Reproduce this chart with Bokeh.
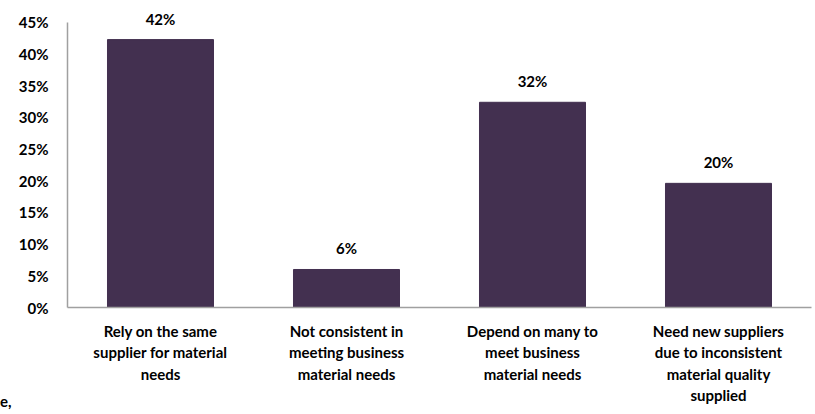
from bokeh.plotting import figure
from bokeh.models import ColumnDataSource, FactorRange, Range1d, NumeralTickFormatter, FixedTicker, Div
from bokeh.layouts import column
from bokeh.embed import file_html
from bokeh.resources import INLINE
from bokeh.core.properties import value

categories = [
    "Rely on the same\nsupplier for material\nneeds",
    "Not consistent in\nmeeting business\nmaterial needs",
    "Depend on many to\nmeet business\nmaterial needs",
    "Need new suppliers\ndue to inconsistent\nmaterial quality\nsupplied",
]
values = [0.423, 0.06, 0.324, 0.196]
labels = ["42%", "6%", "32%", "20%"]
yticks = [0, 0.05, 0.10, 0.15, 0.20, 0.25, 0.30, 0.35, 0.40, 0.45]
fragment = "e,"

FONT = "Lato"
BAR = "#433050"

src = ColumnDataSource(dict(cat=categories, val=values, lab=labels))

p = figure(width=815, height=414, output_backend="svg", toolbar_location=None,
           x_range=FactorRange(*categories, range_padding=0),
           y_range=Range1d(0, 0.4847),
           min_border_left=67, min_border_right=4, min_border_top=0, min_border_bottom=107)
p.outline_line_color = None
p.grid.grid_line_color = None
p.background_fill_color = "white"

p.vbar(x="cat", top="val", width=0.57, source=src, fill_color=BAR, line_color=BAR)
p.text(x="cat", y="val", text="lab", source=src, text_align="center", text_baseline="bottom",
       y_offset=-12, text_font=value(FONT), text_font_style="bold", text_font_size="15px",
       text_color="black")

ya = p.yaxis[0]
ya.bounds = (0, 0.45)
ya.ticker = FixedTicker(ticks=yticks)
ya.formatter = NumeralTickFormatter(format="0%")
ya.major_tick_line_color = None
ya.minor_tick_line_color = None
ya.axis_line_color = "#a0a0a0"
ya.axis_line_width = 1.5
ya.major_label_standoff = 13
ya.major_label_text_font = FONT
ya.major_label_text_font_style = "bold"
ya.major_label_text_font_size = "15px"
ya.major_label_text_color = "black"

xa = p.xaxis[0]
xa.major_tick_line_color = None
xa.minor_tick_line_color = None
xa.axis_line_color = "#a0a0a0"
xa.axis_line_width = 1.5
xa.major_label_standoff = 8
xa.major_label_text_font = FONT
xa.major_label_text_font_style = "bold"
xa.major_label_text_font_size = "15px"
xa.major_label_text_color = "black"
xa.major_label_text_line_height = 1.2

d = Div(text=fragment, width=20, height=20, margin=(-22, 0, 0, 0),
        styles={"font-family": FONT, "font-weight": "bold", "font-size": "15px",
                "line-height": "18px", "color": "black"})

page = column(p, d, spacing=0)

open("out.html", "w").write(file_html(page, INLINE))
